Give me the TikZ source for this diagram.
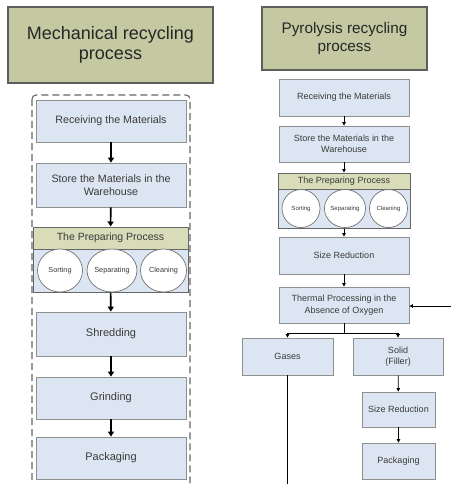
\documentclass[tikz,border=0pt]{standalone}
\usepackage{fontspec}
\setmainfont{Liberation Sans}
\usetikzlibrary{arrows.meta,shapes.geometric}
\definecolor{titlefill}{HTML}{C5C9A2}
\definecolor{titledraw}{HTML}{5E5E5E}
\definecolor{boxfill}{HTML}{DCE6F2}
\definecolor{boxdraw}{HTML}{8F8F8F}
\definecolor{headfill}{HTML}{D8DCB8}
\definecolor{txt}{HTML}{3A3A3A}
\tikzset{
  titlebox/.style={draw=titledraw,line width=1.6pt,fill=titlefill,inner sep=0pt,align=center,text=black!85},
  procbox/.style={draw=boxdraw,line width=0.8pt,fill=boxfill,inner sep=0pt,align=center,text=txt},
  headbox/.style={draw=black!60,line width=1pt,fill=headfill,inner sep=0pt,align=center,text=txt},
  bodybox/.style={draw=black!60,line width=1pt,fill=boxfill,inner sep=0pt},
  sub/.style={ellipse,draw=black!55,line width=0.7pt,fill=white,inner sep=0pt,text=txt},
  bigarrow/.style={line width=1.6pt,-{Triangle[length=5pt,width=6pt]}},
  smallarrow/.style={line width=0.8pt,-{Triangle[length=3.5pt,width=3.5pt]}},
  leftfont/.style={font=\fontsize{10.7}{13}\selectfont},
  bigleftfont/.style={font=\fontsize{11}{13}\selectfont},
  rightfont/.style={font=\fontsize{9}{11.5}\selectfont},
}
\begin{document}
\begin{tikzpicture}[x=1pt,y=-1pt]
\useasboundingbox (0,0) rectangle (451,484);
\begin{scope}
\clip (0,0) rectangle (451,484);
% ---------- Left: mechanical ----------
\node[titlebox,minimum width=205pt,minimum height=76pt,font=\fontsize{18}{20.5}\selectfont] (mtitle) at (110.5,45) {Mechanical recycling\\process};
\draw[black!60,line width=1.1pt,dash pattern=on 7pt off 4pt,rounded corners=4pt] (32,95) rectangle (190,500);
\node[procbox,leftfont,minimum width=150pt,minimum height=42pt] (mrecv) at (111,121) {Receiving the Materials};
\node[procbox,leftfont,minimum width=150pt,minimum height=44pt] (mstore) at (111,185) {Store the Materials in the\\Warehouse};
\node[headbox,font=\fontsize{10.5}{12}\selectfont,minimum width=155pt,minimum height=22pt] (mhead) at (110.5,238) {The Preparing Process};
\node[bodybox,minimum width=155pt,minimum height=43pt] (mbody) at (110.5,270.5) {};
\node[sub,minimum width=45pt,minimum height=43pt,font=\fontsize{7.3}{9}\selectfont] (msort) at (60,270.5) {Sorting};
\node[sub,minimum width=46pt,minimum height=43pt,font=\fontsize{7.3}{9}\selectfont] (msep) at (112,270.5) {Separating};
\node[sub,minimum width=46pt,minimum height=43pt,font=\fontsize{7.3}{9}\selectfont] (mclean) at (163.5,270.5) {Cleaning};
\node[procbox,bigleftfont,minimum width=150pt,minimum height=44pt] (mshred) at (111,334) {Shredding};
\node[procbox,bigleftfont,minimum width=150pt,minimum height=42pt] (mgrind) at (111,398) {Grinding};
\node[procbox,bigleftfont,minimum width=150pt,minimum height=42pt] (mpack) at (111,458) {Packaging};
\draw[bigarrow] (mrecv) -- (mstore);
\draw[bigarrow] (mstore) -- (mhead);
\draw[bigarrow] (mbody) -- (mshred);
\draw[bigarrow] (mshred) -- (mgrind);
\draw[bigarrow] (mgrind) -- (mpack);
% ---------- Right: pyrolysis ----------
\node[titlebox,minimum width=165pt,minimum height=63pt,font=\fontsize{15.3}{18.5}\selectfont] (ptitle) at (344.5,38.5) {Pyrolysis recycling\\process};
\node[procbox,rightfont,minimum width=130pt,minimum height=37pt] (precv) at (344,97.5) {Receiving the Materials};
\node[procbox,rightfont,minimum width=130pt,minimum height=36pt] (pstore) at (344,144) {Store the Materials in the\\Warehouse};
\node[headbox,rightfont,minimum width=132pt,minimum height=16pt] (phead) at (344,181) {The Preparing Process};
\node[bodybox,minimum width=132pt,minimum height=39pt] (pbody) at (344,208.5) {};
\node[sub,minimum width=38pt,minimum height=38pt,font=\fontsize{6}{7}\selectfont] (psort) at (301,208.5) {Sorting};
\node[sub,minimum width=40pt,minimum height=38pt,font=\fontsize{6}{7}\selectfont] (psep) at (345,208.5) {Separating};
\node[sub,minimum width=38pt,minimum height=38pt,font=\fontsize{6}{7}\selectfont] (pclean) at (388.5,208.5) {Cleaning};
\node[procbox,rightfont,minimum width=130pt,minimum height=37pt] (psize) at (344,255.5) {Size Reduction};
\node[procbox,rightfont,minimum width=130pt,minimum height=36pt] (ptherm) at (344,305) {Thermal Processing in the\\Absence of Oxygen};
\node[procbox,rightfont,minimum width=91pt,minimum height=37pt] (pgas) at (287.5,356.5) {Gases};
\node[procbox,rightfont,minimum width=90pt,minimum height=37pt] (psolid) at (398,356.5) {Solid\\(Filler)};
\node[procbox,rightfont,minimum width=73pt,minimum height=35pt] (psize2) at (398.5,409.5) {Size Reduction};
\node[procbox,rightfont,minimum width=73pt,minimum height=36pt] (ppack) at (398.5,461) {Packaging};
\coordinate (fb) at (451,306);
\coordinate (split) at (344,333);
\coordinate (gasend) at (287.5,490);
\draw[smallarrow] (precv) -- (pstore);
\draw[smallarrow] (pstore) -- (phead);
\draw[smallarrow] (pbody) -- (psize);
\draw[smallarrow] (psize) -- (ptherm);
\draw[smallarrow] (fb) -- (ptherm.east |- fb);
\draw[line width=0.8pt] (ptherm.south) -- (split);
\draw[smallarrow] (split) -| (pgas.north);
\draw[smallarrow] (split) -| (psolid.north);
\draw[line width=0.8pt] (pgas.south) -- (gasend);
\draw[smallarrow] (psolid) -- (psize2);
\draw[smallarrow] (psize2) -- (ppack);
\end{scope}
\end{tikzpicture}
\end{document}
